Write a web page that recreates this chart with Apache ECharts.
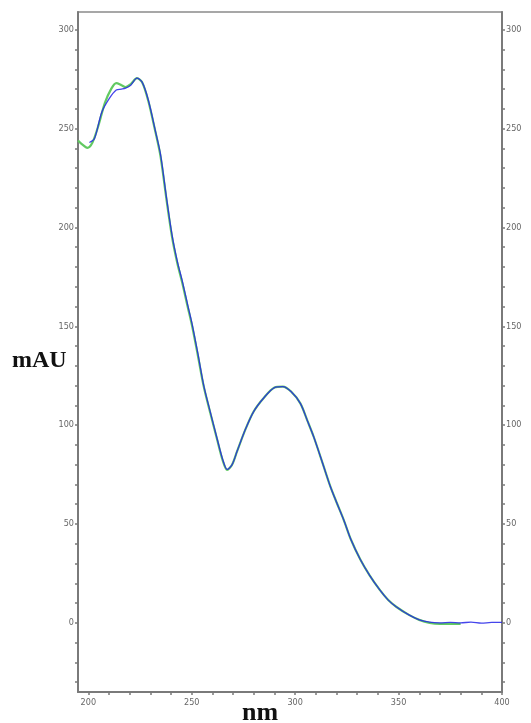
<!DOCTYPE html>
<html>
<head>
<meta charset="utf-8">
<script src="https://cdn.jsdelivr.net/npm/echarts@6/dist/echarts.min.js"></script>
<style>
  html, body { margin: 0; padding: 0; background: #fff; }
  #spectrum { width: 531px; height: 723px; }
</style>
</head>
<body>
<div id="spectrum"></div>
<script>
var myChart = echarts.init(document.getElementById('spectrum'))

// green trace (nm, mAU)
var greenNm = [195, 197, 199.5, 202, 205, 208, 211, 213.5, 216, 218, 220.5, 223.5, 226, 229, 232.5, 234.9, 237.8, 240.5, 243, 245.4, 248, 250.2, 253, 255.8, 259, 262.3, 265, 267.1, 269.5, 272, 276, 280, 285, 290, 294, 298, 302.5, 306, 309, 313.5, 317, 320, 323.5, 327, 331.5, 336, 341, 345, 349, 355, 360, 365, 370, 375, 380]
var greenVal = [244, 242, 240.3, 243, 252, 263, 270, 273, 272, 271, 272.5, 275.5, 273.5, 264, 248, 236, 214, 195, 182, 172, 160, 150, 135, 119.5, 106, 92.6, 82, 77.4, 80, 87, 98, 107, 114, 119, 119.5, 117, 111, 102, 94, 80, 69, 61, 52, 42, 32, 24, 16.5, 11.5, 8, 4, 1.5, 0, -0.5, -0.5, -0.5]

// blue trace (nm, mAU)
var blueNm = [200.5, 203, 206.4, 210, 213.5, 216, 218, 220.5, 223.5, 226, 229, 232.5, 234.9, 237.8, 240.5, 243, 245.4, 248, 250.2, 253, 255.8, 259, 262.3, 265, 267.1, 269.5, 272, 276, 280, 285, 290, 294, 298, 302.5, 306, 309, 313.5, 317, 320, 323.5, 327, 331.5, 336, 341, 345, 349, 355, 360, 365, 370, 375, 380, 385, 390, 395, 400]
var blueVal = [243, 245, 258, 265, 269.5, 270, 270.5, 272, 275.5, 273.5, 264.5, 248.5, 237, 215, 196, 183, 173, 161, 151, 136, 120, 106.5, 93, 82.5, 77.6, 80, 87, 98, 107, 114, 119, 119.5, 117, 111, 102, 94, 80, 69, 61, 52, 42, 32, 24, 16.5, 11.5, 8, 4, 1.5, 0.3, 0, 0.2, 0, 0.3, -0.2, 0.2, 0.2]

// ticks and labels
var xTicks = [200, 210, 220, 230, 240, 250, 260, 270, 280, 290, 300, 310, 320, 330, 340, 350, 360, 370, 380, 390, 400]
var xLabels = [200, 250, 300, 350, 400]
var yTicks = [-30, -20, -10, 0, 10, 20, 30, 40, 50, 60, 70, 80, 90, 100, 110, 120, 130, 140, 150, 160, 170, 180, 190, 200, 210, 220, 230, 240, 250, 260, 270, 280, 290, 300]
var yLabels = [0, 50, 100, 150, 200, 250, 300]

function pairs(xs, ys) {
  return xs.map(function(x, i) {
    return [x, ys[i]]
  })
}

var axisGray = '#7a7a7a'

function yAxisOf(pos) {
  return {
    type: 'value',
    position: pos,
    min: -35,
    max: 309,
    axisLine: { show: true, lineStyle: { color: axisGray, width: 2 } },
    axisTick: {
      show: true,
      inside: false,
      length: 3,
      customValues: yTicks,
      lineStyle: { color: axisGray, width: 1.5 }
    },
    axisLabel: {
      show: true,
      customValues: yLabels,
      margin: 4,
      color: '#666',
      fontSize: 9,
      fontFamily: 'DejaVu Sans Condensed, DejaVu Sans'
    },
    splitLine: { show: false }
  }
}

option = {
  animation: false,
  backgroundColor: '#fff',
  grid: {
    left: 78,
    right: 29,
    top: 12,
    bottom: 31,
    show: true,
    borderColor: '#8a8a8a',
    borderWidth: 1.5
  },
  xAxis: [
    {
      type: 'value',
      min: 195,
      max: 400,
      axisLine: { show: true, onZero: false, lineStyle: { color: axisGray, width: 2 } },
      axisTick: {
        show: true,
        length: 3,
        customValues: xTicks,
        lineStyle: { color: axisGray, width: 1.5 }
      },
      axisLabel: {
        show: true,
        customValues: xLabels,
        margin: 6,
        color: '#666',
        fontSize: 9,
        fontFamily: 'DejaVu Sans Condensed, DejaVu Sans'
      },
      splitLine: { show: false }
    }
  ],
  yAxis: [yAxisOf('left'), yAxisOf('right')],
  graphic: [
    {
      type: 'text',
      left: 12,
      top: 349,
      style: {
        text: 'mAU',
        font: 'bold 24px "Liberation Serif", "DejaVu Serif", serif',
        fill: '#111'
      }
    },
    {
      type: 'text',
      left: 242,
      top: 700,
      style: {
        text: 'nm',
        font: 'bold 26px "Liberation Serif", "DejaVu Serif", serif',
        fill: '#111'
      }
    }
  ],
  series: [
    {
      name: 'green',
      type: 'line',
      showSymbol: false,
      smooth: 0.3,
      lineStyle: { color: '#62c962', width: 2.2 },
      data: pairs(greenNm, greenVal)
    },
    {
      name: 'blue',
      type: 'line',
      showSymbol: false,
      smooth: 0.3,
      lineStyle: { color: '#2424e8', width: 1.3, opacity: 0.85 },
      data: pairs(blueNm, blueVal)
    }
  ]
}
myChart.setOption(option)
window.onresize = function() {
  myChart.resize()
}
</script>
</body>
</html>
